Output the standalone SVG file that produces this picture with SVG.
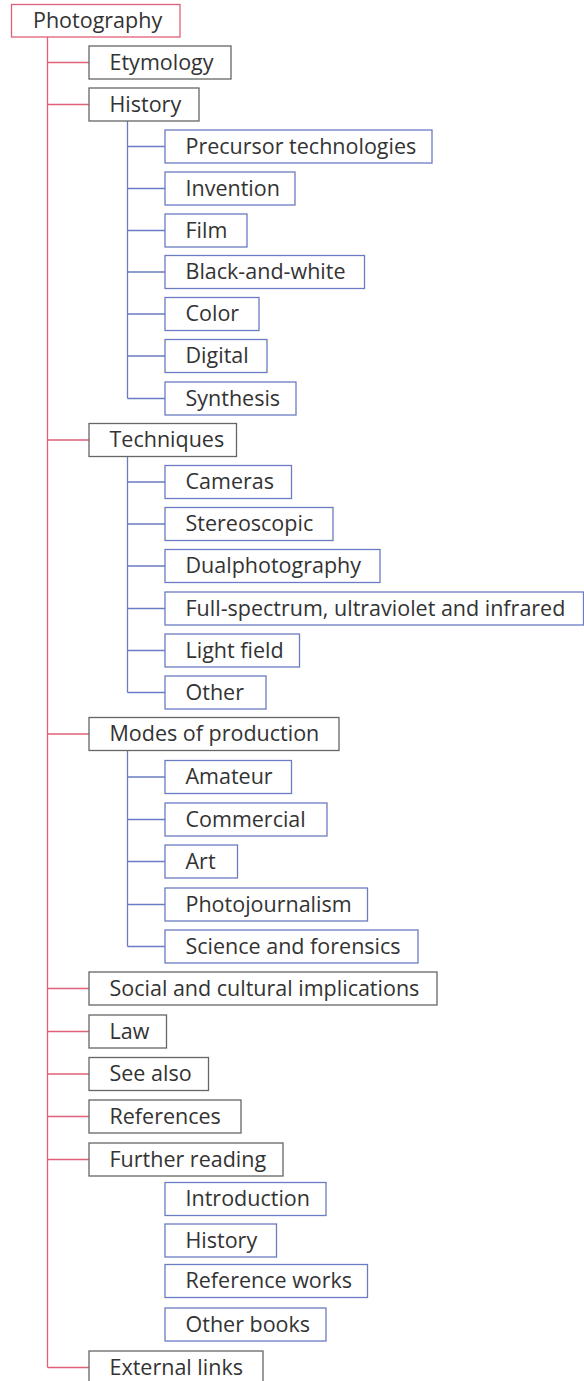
<svg xmlns="http://www.w3.org/2000/svg" width="584" height="1381" viewBox="0 0 584 1381">
<style>
rect{fill:#fff;stroke-width:1.3}
.r{stroke:#e0607a}
.g{stroke:#666}
.b{stroke:#6b7cc4}
text{font-family:"Open Sans","Noto Sans",sans-serif;font-size:21.5px;fill:#333}
.cr{stroke:#e0607a;stroke-width:1.3;fill:none}
.cb{stroke:#6b7cc4;stroke-width:1.3;fill:none}
</style>
<rect width="584" height="1381" fill="#fff" stroke="none"/>
<g id="connectors">
<path class="cr" d="M47.5 37V1367.5M47.5 62.5H89M47.5 104.5H89M47.5 440H89M47.5 734H89M47.5 988.5H89M47.5 1031.5H89M47.5 1074H89M47.5 1116.5H89M47.5 1159.5H89M47.5 1367.5H89"/>
<path class="cb" d="M127.5 121V398.5M127.5 146.5H165M127.5 188.5H165M127.5 230.5H165M127.5 272H165M127.5 314H165M127.5 356H165M127.5 398.5H165"/>
<path class="cb" d="M127.5 456.5V692.5M127.5 482H165M127.5 524H165M127.5 566H165M127.5 608.5H165M127.5 650.5H165M127.5 692.5H165"/>
<path class="cb" d="M127.5 751V946.5M127.5 777H165M127.5 819.5H165M127.5 861.5H165M127.5 904.5H165M127.5 946.5H165"/>
</g>
<g id="n-photography"><rect class="r" x="11.5" y="4.5" width="168.5" height="32.5"/><text x="33" y="27.5">Photography</text></g>
<g id="n-etymology"><rect class="g" x="89" y="46" width="142" height="33"/><text x="109.5" y="69.5">Etymology</text></g>
<g id="n-history"><rect class="g" x="89" y="88" width="110" height="33"/><text x="109.5" y="111.5">History</text></g>
<g id="n-precursor"><rect class="b" x="165" y="130" width="267" height="33"/><text x="185.5" y="153.5">Precursor technologies</text></g>
<g id="n-invention"><rect class="b" x="165" y="172" width="130" height="33"/><text x="185.5" y="195.5">Invention</text></g>
<g id="n-film"><rect class="b" x="165" y="214" width="82" height="33"/><text x="185.5" y="237.5">Film</text></g>
<g id="n-bw"><rect class="b" x="165" y="255.5" width="199.5" height="33"/><text x="185.5" y="279">Black-and-white</text></g>
<g id="n-color"><rect class="b" x="165" y="297.5" width="94" height="33"/><text x="185.5" y="321">Color</text></g>
<g id="n-digital"><rect class="b" x="165" y="339.5" width="102" height="33"/><text x="185.5" y="363">Digital</text></g>
<g id="n-synthesis"><rect class="b" x="165" y="382" width="131" height="33"/><text x="185.5" y="405.5">Synthesis</text></g>
<g id="n-techniques"><rect class="g" x="89" y="423.5" width="147.5" height="33"/><text x="109.5" y="447">Techniques</text></g>
<g id="n-cameras"><rect class="b" x="165" y="465.5" width="126.5" height="33"/><text x="185.5" y="489">Cameras</text></g>
<g id="n-stereoscopic"><rect class="b" x="165" y="507.5" width="168" height="33"/><text x="185.5" y="531">Stereoscopic</text></g>
<g id="n-dual"><rect class="b" x="165" y="549.5" width="215" height="33"/><text x="185.5" y="573">Dualphotography</text></g>
<g id="n-full"><rect class="b" x="165" y="592" width="418.5" height="33"/><text x="185.5" y="615.5">Full-spectrum, ultraviolet and infrared</text></g>
<g id="n-lightfield"><rect class="b" x="165" y="634" width="134.5" height="33"/><text x="185.5" y="657.5">Light field</text></g>
<g id="n-other"><rect class="b" x="165" y="676" width="101" height="33"/><text x="185.5" y="699.5">Other</text></g>
<g id="n-modes"><rect class="g" x="89" y="717.5" width="250" height="33"/><text x="109.5" y="741">Modes of production</text></g>
<g id="n-amateur"><rect class="b" x="165" y="760.5" width="126.5" height="33"/><text x="185.5" y="784">Amateur</text></g>
<g id="n-commercial"><rect class="b" x="165" y="803" width="162" height="33"/><text x="185.5" y="826.5">Commercial</text></g>
<g id="n-art"><rect class="b" x="165" y="845" width="72.5" height="33"/><text x="185.5" y="868.5">Art</text></g>
<g id="n-photojournalism"><rect class="b" x="165" y="888" width="202.5" height="33"/><text x="185.5" y="911.5">Photojournalism</text></g>
<g id="n-science"><rect class="b" x="165" y="930" width="253" height="33"/><text x="185.5" y="953.5">Science and forensics</text></g>
<g id="n-social"><rect class="g" x="89" y="972" width="348" height="33"/><text x="109.5" y="995.5">Social and cultural implications</text></g>
<g id="n-law"><rect class="g" x="89" y="1015" width="77.5" height="33"/><text x="109.5" y="1038.5">Law</text></g>
<g id="n-seealso"><rect class="g" x="89" y="1057.5" width="119.5" height="33"/><text x="109.5" y="1081">See also</text></g>
<g id="n-references"><rect class="g" x="89" y="1100" width="152" height="33"/><text x="109.5" y="1123.5">References</text></g>
<g id="n-further"><rect class="g" x="89" y="1143" width="194" height="33"/><text x="109.5" y="1166.5">Further reading</text></g>
<g id="n-introduction"><rect class="b" x="165" y="1182.5" width="161" height="33"/><text x="185.5" y="1206">Introduction</text></g>
<g id="n-history2"><rect class="b" x="165" y="1224" width="111.5" height="33"/><text x="185.5" y="1247.5">History</text></g>
<g id="n-refworks"><rect class="b" x="165" y="1264.5" width="202.5" height="33"/><text x="185.5" y="1288">Reference works</text></g>
<g id="n-otherbooks"><rect class="b" x="165" y="1308" width="161" height="33"/><text x="185.5" y="1331.5">Other books</text></g>
<g id="n-external"><rect class="g" x="89" y="1351" width="174" height="33"/><text x="109.5" y="1374.5">External links</text></g>
</svg>
